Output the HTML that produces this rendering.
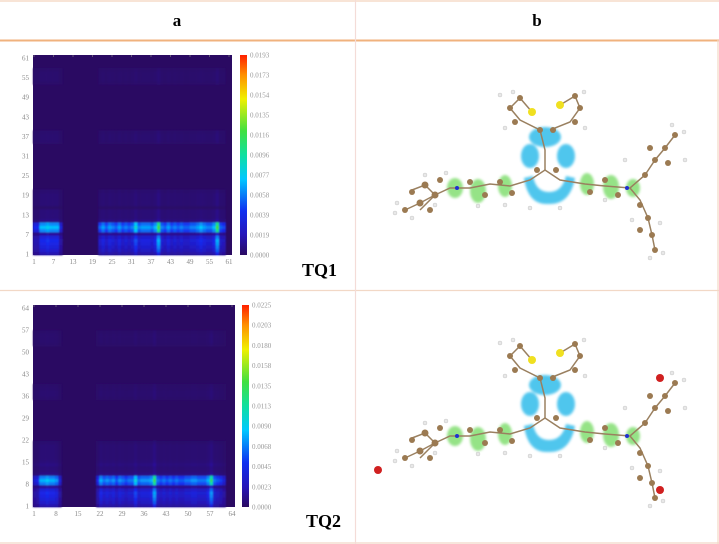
<!DOCTYPE html>
<html><head><meta charset="utf-8">
<style>
body{margin:0;background:#fff;}
#root{position:relative;width:719px;height:544px;overflow:hidden;background:#fff;font-family:"Liberation Sans",sans-serif;}
svg{position:absolute;left:0;top:0;}
</style></head>
<body>
<div id="root">
<svg id="svg" width="719" height="544" viewBox="0 0 719 544">
<defs>
<filter id="blur" x="-5%" y="-5%" width="110%" height="110%"><feGaussianBlur stdDeviation="0.9"/></filter>
<filter id="soft"><feGaussianBlur stdDeviation="1.2"/></filter>
<linearGradient id="jet" x1="0" y1="1" x2="0" y2="0">
<stop offset="0" stop-color="#2a0a62"/><stop offset="0.1" stop-color="#2616b8"/>
<stop offset="0.22" stop-color="#1030f0"/><stop offset="0.38" stop-color="#00c8ff"/>
<stop offset="0.5" stop-color="#10e0a0"/><stop offset="0.62" stop-color="#40e040"/>
<stop offset="0.78" stop-color="#f0f000"/><stop offset="0.9" stop-color="#ff9000"/>
<stop offset="1" stop-color="#ff2000"/>
</linearGradient>
<g id="mol">
<g fill="#3cc0ec" opacity="0.9" filter="url(#soft)">
<ellipse cx="545" cy="137" rx="16" ry="10"/>
<ellipse cx="530" cy="156" rx="9" ry="12"/>
<ellipse cx="566" cy="156" rx="9" ry="12"/>
<path d="M524 178 Q528 205 548 204 Q570 205 575 178 L566 176 Q562 192 549 192 Q536 192 533 176 Z"/>
</g>
<g fill="#8ae07a" opacity="0.9" filter="url(#soft)">
<ellipse cx="455" cy="188" rx="8" ry="10"/>
<ellipse cx="478" cy="191" rx="8" ry="12"/>
<ellipse cx="505" cy="186" rx="7" ry="11"/>
<ellipse cx="587" cy="184" rx="7" ry="11"/>
<ellipse cx="611" cy="187" rx="8" ry="12"/>
<ellipse cx="633" cy="188" rx="7" ry="9"/>
</g>
<g stroke="#9a8060" stroke-width="1.5" fill="none">
<polyline points="405,210 420,203 435,195 450,188 470,188 490,184 510,186 530,180 545,170 560,180 585,184 605,186 630,188 645,175 655,160 665,148 675,135"/>
<polyline points="630,188 640,200 648,218 652,235 655,250"/>
<polyline points="545,170 545,150 540,130 520,120 510,108 520,98 532,112"/>
<polyline points="550,130 570,122 580,108 575,96 560,105"/>
<polyline points="412,190 425,185 435,195 420,210"/>
</g>
<g fill="#9b7a52">
<circle cx="405" cy="210" r="3"/><circle cx="420" cy="203" r="3.5"/><circle cx="435" cy="195" r="3.5"/><circle cx="425" cy="185" r="3.5"/><circle cx="412" cy="192" r="3"/><circle cx="440" cy="180" r="3"/><circle cx="430" cy="210" r="3"/>
<circle cx="470" cy="182" r="3"/><circle cx="485" cy="195" r="3"/><circle cx="500" cy="182" r="3"/><circle cx="512" cy="193" r="3"/>
<circle cx="537" cy="170" r="3"/><circle cx="556" cy="170" r="3"/><circle cx="540" cy="130" r="3"/><circle cx="553" cy="130" r="3"/>
<circle cx="515" cy="122" r="3"/><circle cx="510" cy="108" r="3"/><circle cx="520" cy="98" r="3"/><circle cx="580" cy="108" r="3"/><circle cx="575" cy="96" r="3"/><circle cx="575" cy="122" r="3"/>
<circle cx="590" cy="192" r="3"/><circle cx="605" cy="180" r="3"/><circle cx="618" cy="195" r="3"/>
<circle cx="645" cy="175" r="3"/><circle cx="655" cy="160" r="3"/><circle cx="665" cy="148" r="3"/><circle cx="650" cy="148" r="3"/><circle cx="668" cy="163" r="3"/><circle cx="675" cy="135" r="3"/>
<circle cx="640" cy="205" r="3"/><circle cx="648" cy="218" r="3"/><circle cx="640" cy="230" r="3"/><circle cx="652" cy="235" r="3"/><circle cx="655" cy="250" r="3"/>
</g>
<g fill="#f0e020"><circle cx="532" cy="112" r="4"/><circle cx="560" cy="105" r="4"/></g>
<g fill="#2030d0"><circle cx="457" cy="188" r="2"/><circle cx="627" cy="188" r="2"/></g>
<g fill="#e8e8e8" stroke="#bbb" stroke-width="0.4">
<circle cx="395" cy="213" r="2"/><circle cx="397" cy="203" r="2"/><circle cx="412" cy="218" r="2"/><circle cx="425" cy="175" r="2"/><circle cx="446" cy="173" r="2"/><circle cx="435" cy="205" r="2"/>
<circle cx="478" cy="206" r="2"/><circle cx="505" cy="205" r="2"/><circle cx="530" cy="208" r="2"/><circle cx="560" cy="208" r="2"/><circle cx="605" cy="200" r="2"/>
<circle cx="500" cy="95" r="2"/><circle cx="513" cy="92" r="2"/><circle cx="505" cy="128" r="2"/><circle cx="584" cy="92" r="2"/><circle cx="585" cy="128" r="2"/>
<circle cx="684" cy="132" r="2"/><circle cx="672" cy="125" r="2"/><circle cx="625" cy="160" r="2"/><circle cx="685" cy="160" r="2"/><circle cx="632" cy="220" r="2"/><circle cx="660" cy="223" r="2"/><circle cx="650" cy="258" r="2"/><circle cx="663" cy="253" r="2"/>
</g>
</g>
</defs>

<g>
<line x1="0" y1="1" x2="719" y2="1" stroke="#f6dcc8" stroke-width="1.5"/>
<line x1="0" y1="40.5" x2="719" y2="40.5" stroke="#f0b27e" stroke-width="2"/>
<line x1="0" y1="290.5" x2="719" y2="290.5" stroke="#f2d8c6" stroke-width="1.2"/>
<line x1="0" y1="543" x2="719" y2="543" stroke="#f2d8c6" stroke-width="1.2"/>
<line x1="355.5" y1="0" x2="355.5" y2="544" stroke="#f4dcd8" stroke-width="1.2"/>
<line x1="718" y1="40" x2="718" y2="544" stroke="#f2d8c6" stroke-width="1.2"/>
</g>
<text x="177" y="26" font-family="Liberation Serif,serif" font-weight="bold" font-size="17" text-anchor="middle">a</text>
<text x="537" y="26" font-family="Liberation Serif,serif" font-weight="bold" font-size="17" text-anchor="middle">b</text>

<g id="charts"></g>

<g><use href="#mol"/></g>
<g><use href="#mol" transform="translate(0,248)"/>
<circle cx="378" cy="470" r="4" fill="#d02020"/><circle cx="660" cy="378" r="4" fill="#d02020"/><circle cx="660" cy="490" r="4" fill="#d02020"/></g>
</svg>
</div>
<script>
// TQ1 data
const tq1Ticks = [1,7,13,19,25,31,37,43,49,55,61];
const tq1CbarLabels = ["0.0000","0.0019","0.0039","0.0058","0.0077","0.0096","0.0116","0.0135","0.0154","0.0173","0.0193"];
const tq1ColProfile = [0.35,0.35,0.6,0.6,0.65,0.6,0.6,0.6,0.3,0,0,0,0,0,0,0,0,0,0,0,
 0.45,0.55,0.45,0.55,0.5,0.45,0.55,0.45,0.5,0.45,0.5,0.72,0.5,0.55,0.55,0.55,0.5,0.6,1.0,0.5,
 0.45,0.55,0.45,0.5,0.45,0.5,0.45,0.45,0.5,0.5,0.55,0.62,0.55,0.5,0.5,0.6,1.0,0.45,0.4,0,0];
const tq1RowProfile = [0.35,0.45,0.5,0.55,0.58,0.5,0.25,0.85,1.0,0.85,0.15,0.1,0.1,0.1,0.03,0.08,0.08,0.08,0.08,0.06,
 0,0,0,0,0,0,0,0,0,0,0,0,0,0,0.05,0.06,0.06,0.05,0,0,0,0,0,0,0,0,0,0,0,0,0,0,0.04,0.05,0.05,0.05,0.04,0,0,0,0];
const tq1Peak = 0.62;
// TQ2 data
const tq2Ticks = [1,8,15,22,29,36,43,50,57,64];
const tq2CbarLabels = ["0.0000","0.0023","0.0045","0.0068","0.0090","0.0113","0.0135","0.0158","0.0180","0.0203","0.0225"];
const tq2ColProfile = [0.3,0.35,0.6,0.6,0.65,0.6,0.6,0.55,0.3,0,0,0,0,0,0,0,0,0,0,0,
 0.35,0.6,0.5,0.55,0.5,0.55,0.45,0.55,0.5,0.45,0.5,0.5,0.72,0.5,0.55,0.55,0.55,0.6,1.0,0.5,
 0.45,0.5,0.45,0.5,0.45,0.5,0.45,0.45,0.5,0.5,0.55,0.55,0.5,0.5,0.5,0.6,0.95,0.5,0.45,0.4,0.3,0,0,0];
const tq2RowProfile = [0.35,0.45,0.5,0.55,0.58,0.5,0.25,0.85,1.0,0.85,0.15,0.1,0.1,0.14,0.1,0.08,0.08,0.08,0.08,0.08,0.06,0,
 0,0,0,0,0,0,0,0,0,0,0,0,0.05,0.06,0.06,0.05,0.04,0,0,0,0,0,0,0,0,0,0,0,0,0.04,0.05,0.05,0.05,0.04,0,0,0,0,0,0,0,0];
const tq2Peak = 0.6;

const NS="http://www.w3.org/2000/svg";
const stops=[[0,[42,10,98]],[0.1,[42,18,160]],[0.22,[24,40,238]],[0.38,[0,200,255]],[0.5,[16,224,160]],[0.62,[64,224,64]],[0.78,[240,240,0]],[0.9,[255,144,0]],[1,[255,32,0]]];
function cmap(t){t=Math.max(0,Math.min(1,t));for(let i=1;i<stops.length;i++){if(t<=stops[i][0]){const a=stops[i-1],b=stops[i];const f=(t-a[0])/(b[0]-a[0]);const c=a[1].map((v,k)=>Math.round(v+(b[1][k]-v)*f));return `rgb(${c.join(',')})`;}}return 'rgb(255,32,0)';}
function mk(tag,attrs,parent){const e=document.createElementNS(NS,tag);for(const k in attrs)e.setAttribute(k,attrs[k]);parent.appendChild(e);return e;}

function heatmap(o){
 const root=document.getElementById('charts');
 const g=mk('g',{},root);
 
 
 const n=o.cols.length, m=o.rows.length;
 const cw=o.w/n, ch=o.h/m;
 const xs=i=>o.x+i*cw, ys=j=>o.y+o.h-(j+1)*ch;
 mk('rect',{x:o.x,y:o.y,width:o.w,height:o.h,fill:cmap(0)},g);
 const cells=mk('g',{filter:'url(#blur)'},g);
 
 
 for(let j=0;j<m;j++)for(let i=0;i<n;i++){
  const v=o.rows[j]*o.cols[i]*o.peak; if(v<=0.001)continue;
  const r=mk('rect',{x:xs(i).toFixed(2),y:ys(j).toFixed(2),width:(cw+0.3).toFixed(2),height:(ch+0.3).toFixed(2),fill:cmap(v)},cells);
  
  
 }
 const tp=k=>(k-1)/(n-1);
 o.ticks.forEach(k=>{
  const px=o.x+1+tp(k)*(o.w-4), py=o.y+o.h-1-tp(k)*(o.h-4);
  const tx=mk('text',{x:px,y:o.y+o.h+9,'font-size':7,fill:'#888','text-anchor':'middle','font-family':'Liberation Serif,serif'},g);
  tx.textContent=k;
  
  
  const ty=mk('text',{x:o.x-4,y:py+2.5,'font-size':7,fill:'#888','text-anchor':'end','font-family':'Liberation Serif,serif'},g);
  ty.textContent=k;
  
  
  mk('line',{x1:px,x2:px,y1:o.y,y2:o.y+2,stroke:'#888','stroke-width':0.6},g);
 });
 const cb=mk('rect',{x:o.cbx,y:o.y,width:7,height:o.h,fill:'url(#jet)'},g);
 
 
 o.cbl.forEach((s,i)=>{
  const py=o.y+o.h-i*o.h/(o.cbl.length-1);
  const t=mk('text',{x:o.cbx+10,y:py+2.5,'font-size':7,fill:'#999','font-family':'Liberation Serif,serif'},g);
  t.textContent=s;
  
  
 });
 const lb=mk('text',{x:o.lx,y:o.ly,'font-size':18,'font-weight':'bold','font-family':'Liberation Serif,serif'},g);
 lb.textContent=o.label;
 
 
}
heatmap({name:'heatmap-tq1',x:33,y:55,w:199,h:200,cols:tq1ColProfile,rows:tq1RowProfile,peak:tq1Peak,ticks:tq1Ticks,cbx:240,cbl:tq1CbarLabels,label:'TQ1',lx:302,ly:276});
heatmap({name:'heatmap-tq2',x:33,y:305,w:202,h:202,cols:tq2ColProfile,rows:tq2RowProfile,peak:tq2Peak,ticks:tq2Ticks,cbx:242,cbl:tq2CbarLabels,label:'TQ2',lx:306,ly:527});
</script>
</body></html>
